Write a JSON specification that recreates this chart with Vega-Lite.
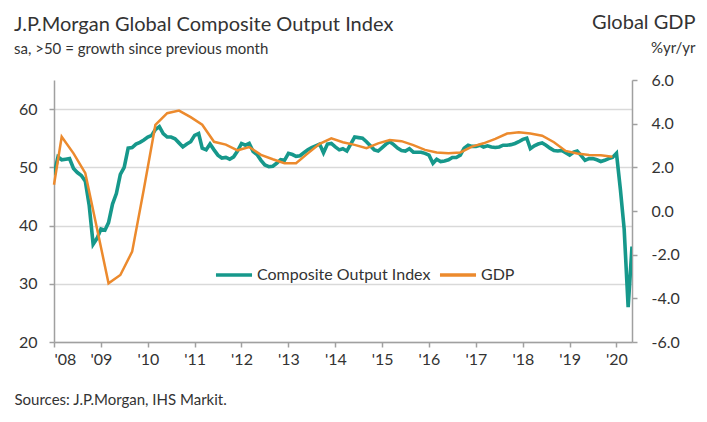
{
  "$schema": "https://vega.github.io/schema/vega-lite/v6.json",
  "width": 578,
  "height": 262,
  "autosize": "none",
  "padding": {"left": 54, "top": 80, "right": 75, "bottom": 80},
  "background": "white",
  "config": {
    "font": "Lato",
    "view": {"stroke": null},
    "axis": {"labelFont": "Lato", "titleFont": "Lato", "labelColor": "#333", "titleColor": "#333", "labelFontSize": 16, "titleFontWeight": "normal", "domainColor": "#a0a0a0", "tickColor": "#a0a0a0", "domainWidth": 1.5, "tickWidth": 1.5, "tickSize": 5}
  },
  "title": {
    "text": "J.P.Morgan Global Composite Output Index",
    "subtitle": "sa, >50 = growth since previous month",
    "anchor": "start",
    "frame": "group",
    "dx": -40,
    "offset": -45,
    "font": "Lato",
    "subtitleFont": "Lato",
    "fontSize": 20,
    "subtitleFontSize": 15,
    "fontWeight": "normal",
    "color": "#333",
    "subtitleColor": "#333",
    "subtitlePadding": 7
  },
  "datasets": {
    "pmi": [
      {"date": "2008-01-01", "value": 48.7}, {"date": "2008-02-01", "value": 51.8}, {"date": "2008-03-01", "value": 51.3}, {"date": "2008-04-01", "value": 51.4},
      {"date": "2008-05-01", "value": 51.5}, {"date": "2008-06-01", "value": 49.8}, {"date": "2008-07-01", "value": 49.1}, {"date": "2008-08-01", "value": 48.6},
      {"date": "2008-09-01", "value": 47.6}, {"date": "2008-10-01", "value": 43.5}, {"date": "2008-11-01", "value": 36.8}, {"date": "2008-12-01", "value": 37.8},
      {"date": "2009-01-01", "value": 39.4}, {"date": "2009-02-01", "value": 39.2}, {"date": "2009-03-01", "value": 40.5}, {"date": "2009-04-01", "value": 43.7},
      {"date": "2009-05-01", "value": 45.5}, {"date": "2009-06-01", "value": 48.8}, {"date": "2009-07-01", "value": 50.0}, {"date": "2009-08-01", "value": 53.3},
      {"date": "2009-09-01", "value": 53.4}, {"date": "2009-10-01", "value": 54.0}, {"date": "2009-11-01", "value": 54.3}, {"date": "2009-12-01", "value": 54.7},
      {"date": "2010-01-01", "value": 55.2}, {"date": "2010-02-01", "value": 55.5}, {"date": "2010-03-01", "value": 56.5}, {"date": "2010-04-01", "value": 57.0},
      {"date": "2010-05-01", "value": 55.8}, {"date": "2010-06-01", "value": 55.2}, {"date": "2010-07-01", "value": 55.2}, {"date": "2010-08-01", "value": 54.9},
      {"date": "2010-09-01", "value": 54.2}, {"date": "2010-10-01", "value": 53.5}, {"date": "2010-11-01", "value": 54.0}, {"date": "2010-12-01", "value": 54.4},
      {"date": "2011-01-01", "value": 55.5}, {"date": "2011-02-01", "value": 55.8}, {"date": "2011-03-01", "value": 53.3}, {"date": "2011-04-01", "value": 53.0},
      {"date": "2011-05-01", "value": 54.0}, {"date": "2011-06-01", "value": 53.0}, {"date": "2011-07-01", "value": 52.1}, {"date": "2011-08-01", "value": 51.6},
      {"date": "2011-09-01", "value": 51.7}, {"date": "2011-10-01", "value": 51.4}, {"date": "2011-11-01", "value": 51.8}, {"date": "2011-12-01", "value": 52.8},
      {"date": "2012-01-01", "value": 54.1}, {"date": "2012-02-01", "value": 53.8}, {"date": "2012-03-01", "value": 54.1}, {"date": "2012-04-01", "value": 52.7},
      {"date": "2012-05-01", "value": 52.2}, {"date": "2012-06-01", "value": 51.2}, {"date": "2012-07-01", "value": 50.4}, {"date": "2012-08-01", "value": 50.1},
      {"date": "2012-09-01", "value": 50.2}, {"date": "2012-10-01", "value": 50.7}, {"date": "2012-11-01", "value": 51.3}, {"date": "2012-12-01", "value": 51.2},
      {"date": "2013-01-01", "value": 52.4}, {"date": "2013-02-01", "value": 52.2}, {"date": "2013-03-01", "value": 51.9}, {"date": "2013-04-01", "value": 52.0},
      {"date": "2013-05-01", "value": 52.5}, {"date": "2013-06-01", "value": 53.0}, {"date": "2013-07-01", "value": 53.4}, {"date": "2013-08-01", "value": 53.7},
      {"date": "2013-09-01", "value": 54.0}, {"date": "2013-10-01", "value": 52.5}, {"date": "2013-11-01", "value": 54.0}, {"date": "2013-12-01", "value": 54.1},
      {"date": "2014-01-01", "value": 53.5}, {"date": "2014-02-01", "value": 53.0}, {"date": "2014-03-01", "value": 53.2}, {"date": "2014-04-01", "value": 52.8},
      {"date": "2014-05-01", "value": 54.0}, {"date": "2014-06-01", "value": 55.2}, {"date": "2014-07-01", "value": 55.1}, {"date": "2014-08-01", "value": 55.0},
      {"date": "2014-09-01", "value": 54.4}, {"date": "2014-10-01", "value": 53.7}, {"date": "2014-11-01", "value": 53.0}, {"date": "2014-12-01", "value": 52.8},
      {"date": "2015-01-01", "value": 53.4}, {"date": "2015-02-01", "value": 54.0}, {"date": "2015-03-01", "value": 54.4}, {"date": "2015-04-01", "value": 53.9},
      {"date": "2015-05-01", "value": 53.3}, {"date": "2015-06-01", "value": 52.9}, {"date": "2015-07-01", "value": 52.8}, {"date": "2015-08-01", "value": 53.2},
      {"date": "2015-09-01", "value": 52.6}, {"date": "2015-10-01", "value": 52.6}, {"date": "2015-11-01", "value": 52.6}, {"date": "2015-12-01", "value": 52.4},
      {"date": "2016-01-01", "value": 52.1}, {"date": "2016-02-01", "value": 50.7}, {"date": "2016-03-01", "value": 51.4}, {"date": "2016-04-01", "value": 51.0},
      {"date": "2016-05-01", "value": 51.1}, {"date": "2016-06-01", "value": 51.3}, {"date": "2016-07-01", "value": 51.7}, {"date": "2016-08-01", "value": 51.7},
      {"date": "2016-09-01", "value": 52.1}, {"date": "2016-10-01", "value": 53.3}, {"date": "2016-11-01", "value": 53.8}, {"date": "2016-12-01", "value": 53.6},
      {"date": "2017-01-01", "value": 53.6}, {"date": "2017-02-01", "value": 53.8}, {"date": "2017-03-01", "value": 53.5}, {"date": "2017-04-01", "value": 53.7},
      {"date": "2017-05-01", "value": 53.5}, {"date": "2017-06-01", "value": 53.4}, {"date": "2017-07-01", "value": 53.5}, {"date": "2017-08-01", "value": 53.8},
      {"date": "2017-09-01", "value": 53.8}, {"date": "2017-10-01", "value": 53.9}, {"date": "2017-11-01", "value": 54.1}, {"date": "2017-12-01", "value": 54.4},
      {"date": "2018-01-01", "value": 54.8}, {"date": "2018-02-01", "value": 55.0}, {"date": "2018-03-01", "value": 53.2}, {"date": "2018-04-01", "value": 53.7},
      {"date": "2018-05-01", "value": 54.0}, {"date": "2018-06-01", "value": 54.2}, {"date": "2018-07-01", "value": 53.8}, {"date": "2018-08-01", "value": 53.3},
      {"date": "2018-09-01", "value": 52.9}, {"date": "2018-10-01", "value": 52.8}, {"date": "2018-11-01", "value": 52.9}, {"date": "2018-12-01", "value": 52.5},
      {"date": "2019-01-01", "value": 52.1}, {"date": "2019-02-01", "value": 52.6}, {"date": "2019-03-01", "value": 52.8}, {"date": "2019-04-01", "value": 52.0},
      {"date": "2019-05-01", "value": 51.2}, {"date": "2019-06-01", "value": 51.5}, {"date": "2019-07-01", "value": 51.5}, {"date": "2019-08-01", "value": 51.3},
      {"date": "2019-09-01", "value": 51.0}, {"date": "2019-10-01", "value": 51.2}, {"date": "2019-11-01", "value": 51.5}, {"date": "2019-12-01", "value": 51.7},
      {"date": "2020-01-01", "value": 52.4}, {"date": "2020-02-01", "value": 46.1}, {"date": "2020-03-01", "value": 39.4}, {"date": "2020-04-01", "value": 26.0},
      {"date": "2020-05-01", "value": 36.4}
    ],
    "gdp": [
      {"date": "2008-01-01", "value": 1.2}, {"date": "2008-03-01", "value": 3.4}, {"date": "2008-06-01", "value": 2.64}, {"date": "2008-09-01", "value": 1.73},
      {"date": "2008-12-01", "value": -0.8}, {"date": "2009-03-01", "value": -3.31}, {"date": "2009-06-01", "value": -2.93}, {"date": "2009-09-01", "value": -1.86},
      {"date": "2009-12-01", "value": 1.0}, {"date": "2010-03-01", "value": 3.94}, {"date": "2010-06-01", "value": 4.48}, {"date": "2010-09-01", "value": 4.6},
      {"date": "2010-12-01", "value": 4.3}, {"date": "2011-03-01", "value": 3.95}, {"date": "2011-06-01", "value": 3.17}, {"date": "2011-09-01", "value": 3.04},
      {"date": "2011-12-01", "value": 2.78}, {"date": "2012-03-01", "value": 2.93}, {"date": "2012-06-01", "value": 2.57}, {"date": "2012-09-01", "value": 2.37},
      {"date": "2012-12-01", "value": 2.19}, {"date": "2013-03-01", "value": 2.19}, {"date": "2013-06-01", "value": 2.64}, {"date": "2013-09-01", "value": 3.08},
      {"date": "2013-12-01", "value": 3.33}, {"date": "2014-03-01", "value": 3.15}, {"date": "2014-06-01", "value": 3.03}, {"date": "2014-09-01", "value": 2.88},
      {"date": "2014-12-01", "value": 3.1}, {"date": "2015-03-01", "value": 3.25}, {"date": "2015-06-01", "value": 3.2}, {"date": "2015-09-01", "value": 3.02},
      {"date": "2015-12-01", "value": 2.8}, {"date": "2016-03-01", "value": 2.68}, {"date": "2016-06-01", "value": 2.64}, {"date": "2016-09-01", "value": 2.68},
      {"date": "2016-12-01", "value": 2.95}, {"date": "2017-03-01", "value": 3.1}, {"date": "2017-06-01", "value": 3.3}, {"date": "2017-09-01", "value": 3.55},
      {"date": "2017-12-01", "value": 3.61}, {"date": "2018-03-01", "value": 3.55}, {"date": "2018-06-01", "value": 3.45}, {"date": "2018-09-01", "value": 3.15},
      {"date": "2018-12-01", "value": 2.75}, {"date": "2019-03-01", "value": 2.63}, {"date": "2019-06-01", "value": 2.57}, {"date": "2019-09-01", "value": 2.55},
      {"date": "2019-12-01", "value": 2.49}
    ]
  },
  "encoding": {
    "x": {
      "field": "date",
      "type": "temporal",
      "scale": {"type": "utc", "domain": ["2008-01-01", "2020-05-01"]},
      "axis": {
        "format": "'%y",
        "tickCount": {"interval": "year", "step": 1},
        "grid": false,
        "labelPadding": 4,
        "title": "Sources: J.P.Morgan, IHS Markit.",
        "titleFontSize": 15,
        "titleAlign": "left",
        "titleBaseline": "alphabetic",
        "titleAnchor": "start",
        "titleX": -40,
        "titleY": 62
      }
    }
  },
  "layer": [
    {
      "data": {"name": "pmi"},
      "transform": [{"calculate": "'Composite Output Index'", "as": "series"}],
      "mark": {"type": "line", "strokeWidth": 3.6, "clip": true},
      "encoding": {
        "y": {
          "field": "value",
          "type": "quantitative",
          "scale": {"domain": [20, 65], "nice": false, "zero": false},
          "axis": {
            "values": [20, 30, 40, 50, 60],
            "grid": true,
            "gridColor": "#d9d9d9",
            "gridWidth": 1.5,
            "labelPadding": 12,
            "title": "%yr/yr",
            "titleFontSize": 15,
            "titleAngle": 0,
            "titleAlign": "right",
            "titleBaseline": "alphabetic",
            "titleX": 641,
            "titleY": -28
          }
        },
        "color": {
          "field": "series",
          "type": "nominal",
          "scale": {"domain": ["Composite Output Index", "GDP"], "range": ["#16988b", "#ec8a2d"]},
          "legend": {
            "title": null,
            "orient": "none",
            "legendX": 160,
            "legendY": 175,
            "direction": "horizontal",
            "symbolType": "stroke",
            "symbolSize": 1300,
            "symbolStrokeWidth": 3.5,
            "labelFontSize": 16,
            "labelFont": "Lato",
            "labelColor": "#333",
            "labelLimit": 300,
            "labelOffset": 3,
            "columnPadding": 1
          }
        }
      }
    },
    {
      "data": {"name": "gdp"},
      "transform": [{"calculate": "'GDP'", "as": "series"}],
      "mark": {"type": "line", "strokeWidth": 2.5},
      "encoding": {
        "y": {
          "field": "value",
          "type": "quantitative",
          "scale": {"domain": [-6, 6], "nice": false},
          "axis": {
            "orient": "right",
            "values": [-6, -4, -2, 0, 2, 4, 6],
            "labelExpr": "replace(format(datum.value, '.1f'), '\u2212', '-')",
            "grid": false,
            "labelPadding": 14,
            "title": "Global GDP",
            "titleFontSize": 20,
            "titleAngle": 0,
            "titleAlign": "right",
            "titleBaseline": "alphabetic",
            "titleX": 63,
            "titleY": -52
          }
        },
        "color": {"field": "series", "type": "nominal"}
      }
    }
  ],
  "resolve": {"scale": {"y": "independent"}}
}
